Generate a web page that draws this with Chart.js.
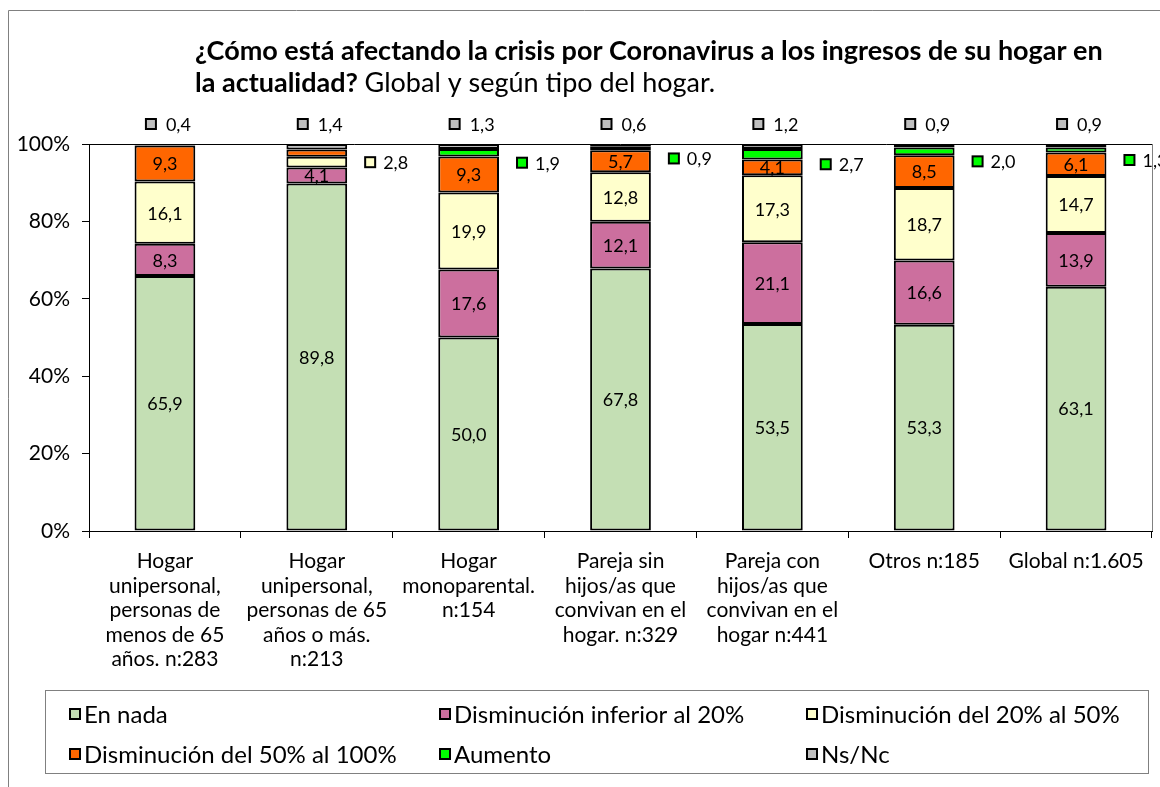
<!DOCTYPE html>
<html>
<head>
<meta charset="utf-8">
<script src="https://cdn.jsdelivr.net/npm/chart.js@4/dist/chart.umd.min.js"></script>
<style>
  body { margin: 0; background: #fff; }
</style>
</head>
<body>
<canvas id="chart" width="1160" height="787"></canvas>
<script>
const categories = [
    ['Hogar', 'unipersonal,', 'personas de', 'menos de 65', 'años. n:283'],
    ['Hogar', 'unipersonal,', 'personas de 65', 'años o más.', 'n:213'],
    ['Hogar', 'monoparental.', 'n:154'],
    ['Pareja sin', 'hijos/as que', 'convivan en el', 'hogar. n:329'],
    ['Pareja con', 'hijos/as que', 'convivan en el', 'hogar n:441'],
    'Otros n:185',
    'Global n:1.605'
];
const seriesNames = [
    'En nada',
    'Disminución inferior al 20%',
    'Disminución del 20% al 50%',
    'Disminución del 50% al 100%',
    'Aumento',
    'Ns/Nc'
];
const enNada = [65.9, 89.8, 50.0, 67.8, 53.5, 53.3, 63.1];
const inferior20 = [8.3, 4.1, 17.6, 12.1, 21.1, 16.6, 13.9];
const del20al50 = [16.1, 2.8, 19.9, 12.8, 17.3, 18.7, 14.7];
const del50al100 = [9.3, 1.9, 9.3, 5.7, 4.1, 8.5, 6.1];
const aumento = [0, 0, 1.9, 0.9, 2.7, 2.0, 1.3];
const nsnc = [0.4, 1.4, 1.3, 0.6, 1.2, 0.9, 0.9];
const yTicks = [0, 20, 40, 60, 80, 100];

const colors = ['#C4DFB4', '#CC6F9E', '#FFFFCC', '#FF6600', '#00FF00', '#BFBFBF'];
const FONT = 'Lato';

const fmt = v => v.toFixed(1).replace('.', ',');

function drawKey(ctx, x, y, color) {
    ctx.fillStyle = color;
    ctx.fillRect(x - 5, y - 5, 10, 10);
    ctx.strokeStyle = '#000';
    ctx.lineWidth = 2;
    ctx.strokeRect(x - 5, y - 5, 10, 10);
}

// frame, title, plot border, legend
const decorPlugin = {
    id: 'decor',
    beforeDraw(chart) {
        const ctx = chart.ctx;
        ctx.save();
        ctx.strokeStyle = '#808080';
        ctx.lineWidth = 1;
        ctx.beginPath();
        ctx.moveTo(8.5, 787);
        ctx.lineTo(8.5, 10.5);
        ctx.lineTo(1160, 10.5);
        ctx.stroke();
        ctx.restore();
    },
    afterDraw(chart) {
        const ctx = chart.ctx;
        const a = chart.chartArea;
        ctx.save();
        ctx.strokeStyle = '#000';
        ctx.lineWidth = 1;
        ctx.beginPath();
        ctx.moveTo(a.left, a.top + 0.5);
        ctx.lineTo(a.right, a.top + 0.5);
        ctx.stroke();
        ctx.strokeStyle = '#808080';
        ctx.beginPath();
        ctx.moveTo(a.right + 0.5, a.top);
        ctx.lineTo(a.right + 0.5, a.bottom);
        ctx.stroke();

        // title
        ctx.fillStyle = '#000';
        ctx.textBaseline = 'middle';
        ctx.textAlign = 'left';
        ctx.font = 'bold 27px ' + FONT;
        ctx.fillText('¿Cómo está afectando la crisis por Coronavirus a los ingresos de su hogar en', 195, 51);
        const bold2 = 'la actualidad?';
        ctx.fillText(bold2, 195, 83);
        const w = ctx.measureText(bold2 + ' ').width;
        ctx.font = '27px ' + FONT;
        ctx.fillText('Global y según tipo del hogar.', 195 + w, 83);

        // legend
        ctx.strokeStyle = '#808080';
        ctx.lineWidth = 1;
        ctx.strokeRect(45.5, 690.5, 1103, 83);
        ctx.font = '24px ' + FONT;
        const cols = [75, 445, 812];
        const rows = [714, 754];
        seriesNames.forEach((name, i) => {
            const x = cols[i % 3];
            const y = rows[Math.floor(i / 3)];
            drawKey(ctx, x, y, colors[i]);
            ctx.fillStyle = '#000';
            ctx.fillText(name, x + 9, y + 1);
        });
        ctx.restore();
    }
};

// value labels
const labelPlugin = {
    id: 'valueLabels',
    afterDatasetsDraw(chart) {
        const ctx = chart.ctx;
        ctx.save();
        ctx.font = '18px ' + FONT;
        ctx.textBaseline = 'middle';
        chart.data.datasets.forEach((ds, i) => {
            const meta = chart.getDatasetMeta(i);
            meta.data.forEach((bar, j) => {
                const v = ds.data[j];
                if (!v) return;
                const cy = (bar.y + bar.base) / 2;
                const right = bar.x + bar.width / 2;
                if (i === 5) {
                    drawKey(ctx, bar.x - 14, chart.chartArea.top - 20, colors[i]);
                    ctx.fillStyle = '#000';
                    ctx.textAlign = 'left';
                    ctx.fillText(fmt(v), bar.x + 1, chart.chartArea.top - 19);
                } else if (i === 4 || (i === 2 && v < 3)) {
                    const dy = i === 4 ? 10 : 0;
                    drawKey(ctx, right + 23, cy + dy, colors[i]);
                    ctx.fillStyle = '#000';
                    ctx.textAlign = 'left';
                    ctx.fillText(fmt(v), right + 36, cy + dy + 1);
                } else if (v >= 3) {
                    ctx.fillStyle = '#000';
                    ctx.textAlign = 'center';
                    ctx.fillText(fmt(v), bar.x, cy + 1);
                }
            });
        });
        ctx.restore();
    }
};

const seriesValues = [enNada, inferior20, del20al50, del50al100, aumento, nsnc];

new Chart(document.getElementById('chart'), {
    type: 'bar',
    data: {
        labels: categories,
        datasets: seriesValues.map((vals, i) => ({
            label: seriesNames[i],
            data: vals,
            backgroundColor: colors[i],
            borderColor: '#000',
            borderWidth: c => (c.raw ? 2 : 0),
            borderSkipped: false,
            barPercentage: 0.4,
            categoryPercentage: 1
        }))
    },
    options: {
        responsive: false,
        animation: false,
        layout: { padding: { left: 0, top: 144, right: 8, bottom: 0 } },
        plugins: {
            legend: { display: false },
            title: { display: false },
            tooltip: { enabled: false }
        },
        scales: {
            x: {
                stacked: true,
                grid: { drawOnChartArea: false, tickLength: 7, color: '#000', offset: true },
                border: { color: '#000', width: 1 },
                ticks: {
                    color: '#000',
                    font: { family: FONT, size: 21, lineHeight: 1.17 },
                    padding: 11,
                    maxRotation: 0,
                    autoSkip: false
                },
                afterFit(scale) { scale.height = 256; }
            },
            y: {
                stacked: true,
                min: 0,
                max: 100,
                afterBuildTicks(scale) { scale.ticks = yTicks.map(v => ({ value: v })); },
                grid: { drawOnChartArea: false, tickLength: 7, color: '#000' },
                border: { color: '#000', width: 1 },
                ticks: {
                    color: '#000',
                    font: { family: FONT, size: 21 },
                    padding: 12,
                    callback: v => v + '%'
                },
                afterFit(scale) { scale.width = 89; }
            }
        }
    },
    plugins: [decorPlugin, labelPlugin]
});
</script>
</body>
</html>
